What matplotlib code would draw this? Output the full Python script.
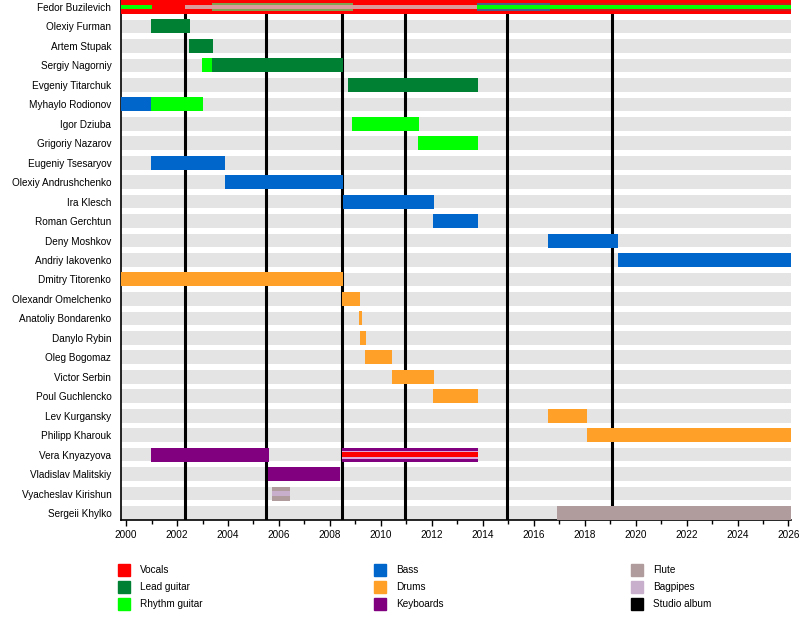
import matplotlib.pyplot as plt
from matplotlib.patches import Rectangle

# members, top to bottom
members = ['Fedor Buzilevich', 'Olexiy Furman', 'Artem Stupak', 'Sergiy Nagorniy',
           'Evgeniy Titarchuk', 'Myhaylo Rodionov', 'Igor Dziuba', 'Grigoriy Nazarov',
           'Eugeniy Tsesaryov', 'Olexiy Andrushchenko', 'Ira Klesch', 'Roman Gerchtun',
           'Deny Moshkov', 'Andriy Iakovenko', 'Dmitry Titorenko', 'Olexandr Omelchenko',
           'Anatoliy Bondarenko', 'Danylo Rybin', 'Oleg Bogomaz', 'Victor Serbin',
           'Poul Guchlencko', 'Lev Kurgansky', 'Philipp Kharouk', 'Vera Knyazyova',
           'Vladislav Malitskiy', 'Vyacheslav Kirishun', 'Sergeii Khylko']

START = 1999.8
END = 2026.1

# main bars (member, from, till, role)
bar_member = ['Fedor Buzilevich', 'Olexiy Furman', 'Artem Stupak', 'Sergiy Nagorniy',
              'Sergiy Nagorniy', 'Evgeniy Titarchuk', 'Myhaylo Rodionov', 'Myhaylo Rodionov',
              'Igor Dziuba', 'Grigoriy Nazarov', 'Eugeniy Tsesaryov', 'Olexiy Andrushchenko',
              'Ira Klesch', 'Roman Gerchtun', 'Deny Moshkov', 'Andriy Iakovenko',
              'Dmitry Titorenko', 'Olexandr Omelchenko', 'Anatoliy Bondarenko', 'Danylo Rybin',
              'Oleg Bogomaz', 'Victor Serbin', 'Poul Guchlencko', 'Lev Kurgansky',
              'Philipp Kharouk', 'Vera Knyazyova', 'Vera Knyazyova', 'Vladislav Malitskiy',
              'Vyacheslav Kirishun', 'Sergeii Khylko']
bar_start = [START, 2000.97, 2002.46, 2002.97, 2003.37, 2008.71, START, 2000.97,
             2008.86, 2011.47, 2000.97, 2003.88, 2008.5, 2012.06, 2016.56, 2019.31,
             START, 2008.48, 2009.13, 2009.2, 2009.38, 2010.44, 2012.06, 2016.56,
             2018.1, 2000.96, 2008.47, 2005.58, 2005.72, 2016.9]
bar_end = [END, 2002.5, 2003.4, 2003.37, 2008.52, 2013.8, 2000.97, 2003.01,
           2011.5, 2013.81, 2003.9, 2008.5, 2012.07, 2013.81, 2019.31, END,
           2008.5, 2009.18, 2009.26, 2009.41, 2010.44, 2012.07, 2013.81, 2018.1,
           END, 2005.62, 2013.83, 2008.39, 2006.43, END]
bar_role = ['Vocals', 'Lead guitar', 'Lead guitar', 'Rhythm guitar', 'Lead guitar',
            'Lead guitar', 'Bass', 'Rhythm guitar', 'Rhythm guitar', 'Rhythm guitar',
            'Bass', 'Bass', 'Bass', 'Bass', 'Bass', 'Bass', 'Drums', 'Drums', 'Drums',
            'Drums', 'Drums', 'Drums', 'Drums', 'Drums', 'Drums', 'Keyboards',
            'Keyboards', 'Keyboards', 'Flute', 'Flute']

# secondary roles drawn as narrower bars on top (layer 1 wider, layer 2 thinner)
over_member = ['Fedor Buzilevich', 'Fedor Buzilevich', 'Fedor Buzilevich',
               'Fedor Buzilevich', 'Fedor Buzilevich', 'Fedor Buzilevich',
               'Vera Knyazyova', 'Vera Knyazyova', 'Vyacheslav Kirishun']
over_start = [START, 2002.33, 2003.37, 2013.76, 2016.64, 2013.76, 2008.47, 2008.47, 2005.72]
over_end = [2001.0, 2013.76, 2008.89, 2016.64, END, END, 2013.83, 2013.83, 2006.43]
over_role = ['Rhythm guitar', 'Bagpipes', 'Rhythm guitar', 'Bass', 'Vocals',
             'Rhythm guitar', 'Bagpipes', 'Vocals', 'Bagpipes']
over_layer = [2, 2, 1, 1, 1, 2, 1, 2, 2]

albums = [2002.33, 2005.51, 2008.48, 2010.95, 2014.96, 2019.08]

legend_roles = ['Vocals', 'Lead guitar', 'Rhythm guitar', 'Bass', 'Drums', 'Keyboards',
                'Flute', 'Bagpipes', 'Studio album']

colors = {'Vocals': '#ff0000', 'Lead guitar': '#008033', 'Rhythm guitar': '#00ff00',
          'Bass': '#0066cc', 'Drums': '#ffa028', 'Keyboards': '#800080',
          'Flute': '#b09c9c', 'Bagpipes': '#c8b0cc', 'Studio album': '#000000'}

# mixed shades where overlays sit on the red vocals bar
over_colors = {('Fedor Buzilevich', 'Bagpipes'): '#dc9a9a',
               ('Fedor Buzilevich', 'Bass'): '#4b5f8a',
               ('Fedor Buzilevich', 'Vocals'): '#cc1a1a',
               ('Fedor Buzilevich', 'Rhythm guitar', 1): '#80a352',
               ('Vera Knyazyova', 'Bagpipes'): '#e0a8d8'}

plt.rcParams['font.family'] = ['Liberation Sans', 'DejaVu Sans']

fig = plt.figure(figsize=(8, 6.2), dpi=100)
ax = fig.add_axes([121 / 800, 1 - 520 / 620, 670 / 800, 520 / 620])

row = {m: i for i, m in enumerate(members)}
h = 0.72

# gray background bands
for i in range(len(members)):
    ax.barh(i, END - START, left=START, height=0.7, color='#e4e4e4', zorder=1)

for x in albums:
    ax.axvline(x, color='black', linewidth=2.2, zorder=2)

for m, s, e, r in zip(bar_member, bar_start, bar_end, bar_role):
    ax.barh(row[m], e - s, left=s, height=h, color=colors[r], linewidth=0, zorder=3)

layer_h = {1: 0.42, 2: 0.22}
for m, s, e, r, l in zip(over_member, over_start, over_end, over_role, over_layer):
    c = over_colors.get((m, r, l), over_colors.get((m, r), colors[r]))
    if m == 'Fedor Buzilevich' and r == 'Rhythm guitar' and l == 2:
        c = colors[r]
    if m == 'Vera Knyazyova' and r == 'Vocals':
        c = colors[r]
    ax.barh(row[m], e - s, left=s, height=layer_h[l], color=c, linewidth=0, zorder=4 + l)

ax.set_xlim(START, END)
ax.set_ylim(len(members) - 0.64, -0.36)
ax.set_yticks(range(len(members)))
ax.set_yticklabels(members, fontsize=7.2)
ax.tick_params(axis='y', length=0, pad=7)
ax.set_xticks(range(2000, 2027, 2))
ax.set_xticks(range(2000, 2027), minor=True)
ax.tick_params(axis='x', which='major', length=4, width=1, labelsize=7.2, pad=3)
ax.tick_params(axis='x', which='minor', length=3, width=1)
for side in ['top', 'right']:
    ax.spines[side].set_visible(False)
ax.spines['left'].set_linewidth(1.2)
ax.spines['bottom'].set_linewidth(1.2)

# legend, three columns
col_x = [118, 374, 631]
row_y = [570, 587, 604]
for k, r in enumerate(legend_roles):
    cx = col_x[k // 3]
    cy = row_y[k % 3]
    fig.patches.append(Rectangle((cx / 800, 1 - (cy + 6) / 620), 12 / 800, 12 / 620,
                                 transform=fig.transFigure, color=colors[r]))
    fig.text((cx + 22) / 800, 1 - cy / 620, r, fontsize=7.2, va='center', ha='left')

fig.savefig('out.png', dpi=100)
